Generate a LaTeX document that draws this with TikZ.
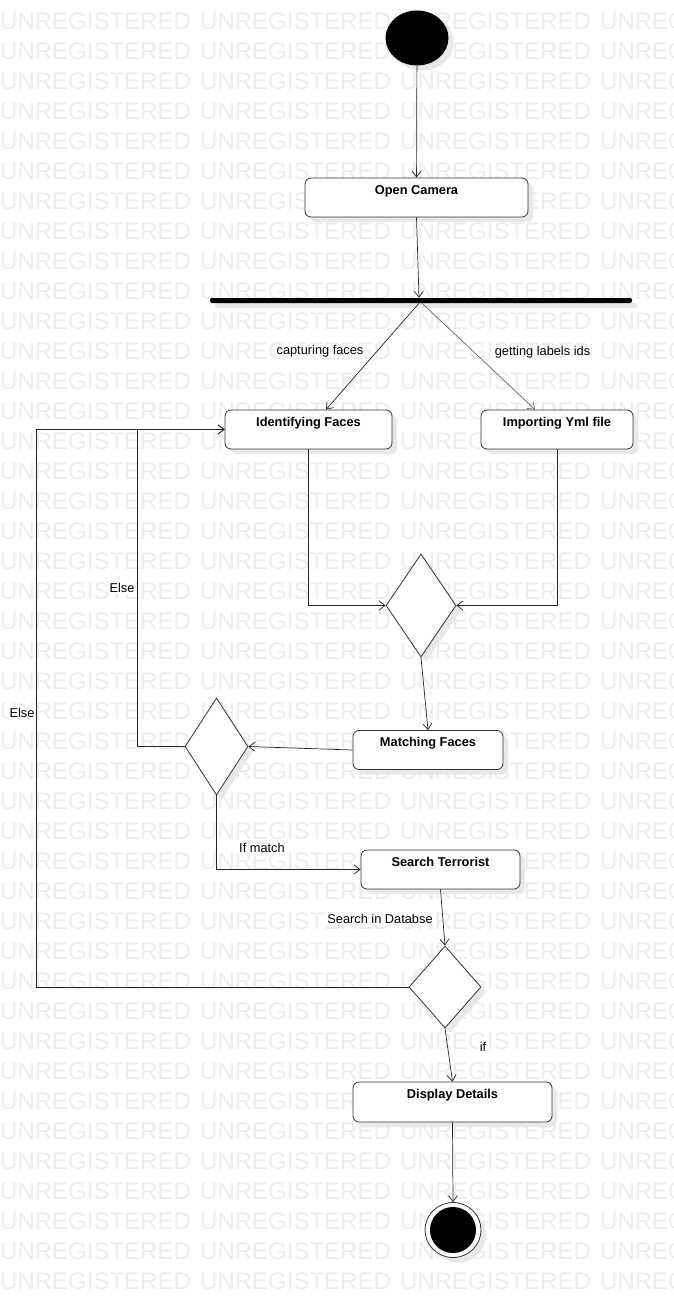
\documentclass[tikz,border=0pt]{standalone}
\usepackage{fontspec}
\setmainfont{Liberation Sans}
\usetikzlibrary{arrows.meta, shapes.geometric, shadows}

\begin{document}
\begin{tikzpicture}[x=1pt, y=-1pt, >={Straight Barb[length=6pt,width=9pt]},
  flow/.style={->, line width=0.7pt, black!85},
  boxshadow/.style={drop shadow={shadow xshift=5pt, shadow yshift=-5pt, fill=black!9, opacity=1}},
  actbox/.style={draw=black!80, fill=white, line width=0.8pt, rounded corners=6pt,
    font=\fontsize{12.8}{15}\selectfont\bfseries, text height=9pt, text depth=16pt,
    inner ysep=7pt, inner xsep=0pt, boxshadow},
  decision/.style={diamond, draw=black!80, fill=white, line width=0.8pt, inner sep=0pt, boxshadow},
  lbl/.style={font=\fontsize{12.8}{15}\selectfont, fill=white, inner sep=1pt},
  wmark/.style={font=\fontsize{24}{24}\selectfont, text=black!7, anchor=west, inner sep=0pt}]

\useasboundingbox (0,0) rectangle (673,1298);

% -------------------------------------------------------
% 1. Watermark rows
% -------------------------------------------------------
\begin{scope}
\clip (0,0) rectangle (673,1298);
\foreach \row in {0,...,42} {
  \foreach \col in {0,200,400,600} {
    \node[wmark] (wm-\row-\col) at (\col, 21.5+30*\row) {UNREGISTERED};
  }
}
\end{scope}

% -------------------------------------------------------
% 2. Start, fork and activities
% -------------------------------------------------------
\node[ellipse, fill=black, minimum width=63pt, minimum height=55pt, inner sep=0pt, boxshadow] (start) at (417,38) {};
\node[actbox, minimum width=223pt] (open) at (416.5,197.5) {Open Camera};
\node[fill=black, rounded corners=2pt, minimum width=422pt, minimum height=5pt, inner sep=0pt, boxshadow] (fork) at (421,300.5) {};

\node[actbox, minimum width=167pt] (ident) at (308.5,429.5) {Identifying Faces};
\node[actbox, minimum width=152pt] (import) at (557,429.5) {Importing Yml file};

% -------------------------------------------------------
% 3. Decisions and the rest of the flow
% -------------------------------------------------------
\node[decision, minimum width=70pt, minimum height=103pt] (dia1) at (421,605.5) {};
\node[actbox, minimum width=150pt] (match) at (428,750) {Matching Faces};
\node[decision, minimum width=63pt, minimum height=97pt] (dia2) at (216.5,746.5) {};
\node[actbox, minimum width=159pt] (search) at (440.5,869.5) {Search Terrorist};
\node[decision, minimum width=72pt, minimum height=82pt] (dia3) at (445,987) {};
\node[actbox, minimum width=199pt, text depth=17pt] (disp) at (452.5,1102) {Display Details};

% final node: ring and dot
\node[ellipse, draw=black!80, fill=white, line width=0.8pt, minimum width=56pt, minimum height=55pt, inner sep=0pt, boxshadow] (finish) at (453,1230) {};
\node[ellipse, fill=black, minimum width=46pt, minimum height=46pt, inner sep=0pt] (finishdot) at (finish) {};

% bend points of the two loops
\coordinate (inner) at (137,0);
\coordinate (outer) at (36,0);

% -------------------------------------------------------
% 4. Connectors
% -------------------------------------------------------
\draw[flow] (start) -- (open);
\draw[flow] (open.south) -- ([xshift=-2pt]fork.north);
\draw[flow] ([xshift=-2pt]fork.south) -- ([xshift=17.5pt]ident.north);
\draw[flow, black!60] ([xshift=1pt]fork.south) -- ([xshift=-22pt]import.north);

\draw[flow] (ident.south) |- (dia1.west);
\draw[flow] (import.south) |- (dia1.east);
\draw[flow] (dia1.south) -- (match.north);
\draw[flow] (match.west) -- (dia2.east);

\draw[flow] (dia2.west) -| (inner |- ident.west) -- (ident.west);
\draw[flow] (dia2.south) |- (search.west);
\draw[flow] (search.south) -- (dia3.north);
\draw[flow] (dia3.west) -| (outer |- ident.west) -- (ident.west);
\draw[flow] (dia3.south) -- (disp.north);
\draw[flow] (disp.south) -- (finish.north);

% edge labels
\node[lbl] (capt) at (320,351) {capturing faces};
\node[lbl] (labels) at (542.5,352) {getting labels ids};
\node[lbl] (else1) at (122,588) {Else};
\node[lbl] (else2) at (22,713) {Else};
\node[lbl] (ifmatch) at (262,848) {If match};
\node[lbl] (indb) at (380,919) {Search in Databse};
\node[lbl] (iflbl) at (483,1047) {if};

\end{tikzpicture}
\end{document}
